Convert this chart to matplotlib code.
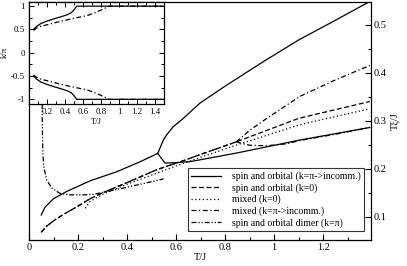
import matplotlib
matplotlib.use("Agg")
from matplotlib import pyplot as plt
from matplotlib.ticker import MultipleLocator, FixedLocator, FormatStrFormatter
import numpy as np

plt.rcParams['font.family'] = ['Liberation Serif', 'DejaVu Serif']
plt.rcParams['axes.unicode_minus'] = False

# main panel: T/J versus T*xi/J
so_T = [0.05, 0.065, 0.1, 0.154, 0.249, 0.358, 0.45, 0.525]
so_v = [0.104, 0.12, 0.138, 0.153, 0.175, 0.194, 0.214, 0.232]
so_up_T = [0.525, 0.548, 0.562, 0.589, 0.623, 0.698, 0.8, 0.956, 1.1, 1.25, 1.39]
so_up_v = [0.232, 0.26, 0.271, 0.288, 0.302, 0.337, 0.372, 0.423, 0.468, 0.509, 0.548]
so_lo_T = [0.525, 0.555, 0.6, 0.657, 0.7, 0.848, 1.106, 1.39]
so_lo_v = [0.232, 0.212, 0.213, 0.215, 0.219, 0.233, 0.26, 0.286]

k0_T = [0.05, 0.07, 0.106, 0.15, 0.195, 0.25, 0.3, 0.43, 0.52, 0.63, 0.7, 0.845, 1.1, 1.39]
k0_v = [0.068, 0.08, 0.094, 0.108, 0.121, 0.138, 0.15, 0.178, 0.198, 0.217, 0.23, 0.256, 0.305, 0.34]

mix0_T = [0.229, 0.249, 0.3, 0.4, 0.5, 0.6, 0.7, 0.85, 1.106, 1.39]
mix0_v = [0.118, 0.132, 0.147, 0.168, 0.187, 0.206, 0.224, 0.25, 0.292, 0.325]

mixpi_T = [0.05, 0.07, 0.106, 0.15, 0.195, 0.25, 0.3, 0.43, 0.52, 0.63, 0.7, 0.845]
mixpi_v = [0.068, 0.08, 0.094, 0.108, 0.121, 0.138, 0.15, 0.178, 0.198, 0.217, 0.23, 0.256]
mixpi_up_T = [0.845, 0.9, 0.97, 1.106, 1.25, 1.39]
mixpi_up_v = [0.256, 0.28, 0.305, 0.351, 0.385, 0.415]
mixpi_lo_T = [0.845, 0.9, 0.97, 1.05, 1.106, 1.25, 1.39]
mixpi_lo_v = [0.256, 0.249, 0.248, 0.252, 0.259, 0.272, 0.286]

dim_T = [0.052, 0.053, 0.054, 0.056, 0.06, 0.072, 0.093, 0.126, 0.167, 0.229, 0.263, 0.385, 0.549]
dim_v = [0.62, 0.40, 0.30, 0.24, 0.205, 0.177, 0.160, 0.149, 0.146, 0.146, 0.147, 0.16, 0.179]

# inset: T/J versus k/pi
ins_so_T = [0.05, 0.08, 0.134, 0.2, 0.28, 0.36, 0.43, 0.47, 0.5, 0.53, 1.5]
ins_so_k = [0.5, 0.56, 0.63, 0.68, 0.73, 0.775, 0.82, 0.86, 0.92, 1.0, 1.0]
ins_mix_T = [0.05, 0.1, 0.17, 0.3, 0.43, 0.55, 0.65, 0.75, 0.87, 0.89, 1.5]
ins_mix_k = [0.48, 0.55, 0.585, 0.65, 0.71, 0.76, 0.8, 0.87, 0.98, 1.0, 1.0]

labels = ['spin and orbital (k=\u03c0->incomm.)',
          'spin and orbital (k=0)',
          'mixed (k=0)',
          'mixed (k=\u03c0->incomm.)',
          'spin and orbital dimer (k=\u03c0)']

lw = 0.9
ls_dash = (0, (4, 2))
ls_dot = (0, (1, 2))
ls_dashdot = (0, (4, 2, 1, 2))
ls_dim = (0, (4, 1.5, 1, 1.5, 1, 1.5))

fig = plt.figure(figsize=(4.07, 2.66), dpi=100)
ax = fig.add_axes([29/407, 1-240/266, (371-29)/407, (240-1.5)/266])

l1, = ax.plot(so_T, so_v, color='k', lw=lw)
ax.plot(so_up_T, so_up_v, color='k', lw=lw)
ax.plot(so_lo_T, so_lo_v, color='k', lw=lw)
l2, = ax.plot(k0_T, k0_v, color='k', lw=lw, ls=ls_dash)
l3, = ax.plot(mix0_T, mix0_v, color='k', lw=lw, ls=ls_dot)
l4, = ax.plot(mixpi_T, mixpi_v, color='k', lw=lw, ls=ls_dashdot)
ax.plot(mixpi_up_T, mixpi_up_v, color='k', lw=lw, ls=ls_dashdot)
ax.plot(mixpi_lo_T, mixpi_lo_v, color='k', lw=lw, ls=ls_dashdot)
l5, = ax.plot(dim_T, dim_v, color='k', lw=lw, ls=ls_dim)

ax.set_xlim(0, 1.395)
ax.set_ylim(0.052, 0.548)
ax.xaxis.set_major_locator(FixedLocator([0, 0.2, 0.4, 0.6, 0.8, 1.0, 1.2]))
ax.xaxis.set_minor_locator(MultipleLocator(0.1))
ax.yaxis.set_major_locator(FixedLocator([0.1, 0.2, 0.3, 0.4, 0.5]))
ax.yaxis.set_minor_locator(MultipleLocator(0.05))
ax.xaxis.set_major_formatter(FormatStrFormatter('%g'))
ax.yaxis.set_major_formatter(FormatStrFormatter('%g'))
ax.yaxis.tick_right()
ax.yaxis.set_label_position('right')
ax.tick_params(which='both', direction='in', labelsize=7.5, pad=2, width=0.8)
ax.tick_params(which='major', length=4)
ax.tick_params(which='minor', length=2)
ax.set_xlabel('T/J', fontsize=7.5, labelpad=1)
ax.set_ylabel('T\u03be/J', fontsize=7.5, labelpad=3)
for s in ax.spines.values():
    s.set_linewidth(0.9)

leg = ax.legend([l1, l2, l3, l4, l5], labels, loc='lower right',
                fontsize=7, frameon=True, fancybox=False, edgecolor='k',
                handlelength=3.1, labelspacing=0.2, borderpad=0.35,
                handletextpad=1.1, borderaxespad=0)
leg.get_frame().set_linewidth(0.8)
leg.set_bbox_to_anchor((364/407, 1-231/266), transform=fig.transFigure)

# inset
axi = fig.add_axes([29/407, 1-104/266, (164-29)/407, (104-1.5)/266])
axi.plot(ins_so_T, ins_so_k, color='k', lw=lw)
axi.plot(ins_so_T, [-k for k in ins_so_k], color='k', lw=lw)
axi.plot(ins_mix_T, ins_mix_k, color='k', lw=lw, ls=ls_dashdot)
axi.plot(ins_mix_T, [-k for k in ins_mix_k], color='k', lw=lw, ls=ls_dashdot)
axi.set_xlim(0, 1.5)
axi.set_ylim(-1.1, 1.1)
axi.xaxis.set_major_locator(FixedLocator([0.2, 0.4, 0.6, 0.8, 1.0, 1.2, 1.4]))
axi.xaxis.set_minor_locator(MultipleLocator(0.1))
axi.yaxis.set_major_locator(FixedLocator([-1, -0.5, 0, 0.5, 1]))
axi.yaxis.set_minor_locator(MultipleLocator(0.25))
axi.xaxis.set_major_formatter(FormatStrFormatter('%g'))
axi.yaxis.set_major_formatter(FormatStrFormatter('%g'))
axi.tick_params(which='both', direction='in', labelsize=6.3, pad=3, width=0.7,
                top=True, right=True)
axi.tick_params(which='major', length=3.5)
axi.tick_params(which='minor', length=2)
axi.set_xlabel('T/J', fontsize=6.3, labelpad=1)
axi.set_ylabel('k/\u03c0', fontsize=6.3, labelpad=1)
for s in axi.spines.values():
    s.set_linewidth(0.9)

fig.savefig('out.png', dpi=100)
